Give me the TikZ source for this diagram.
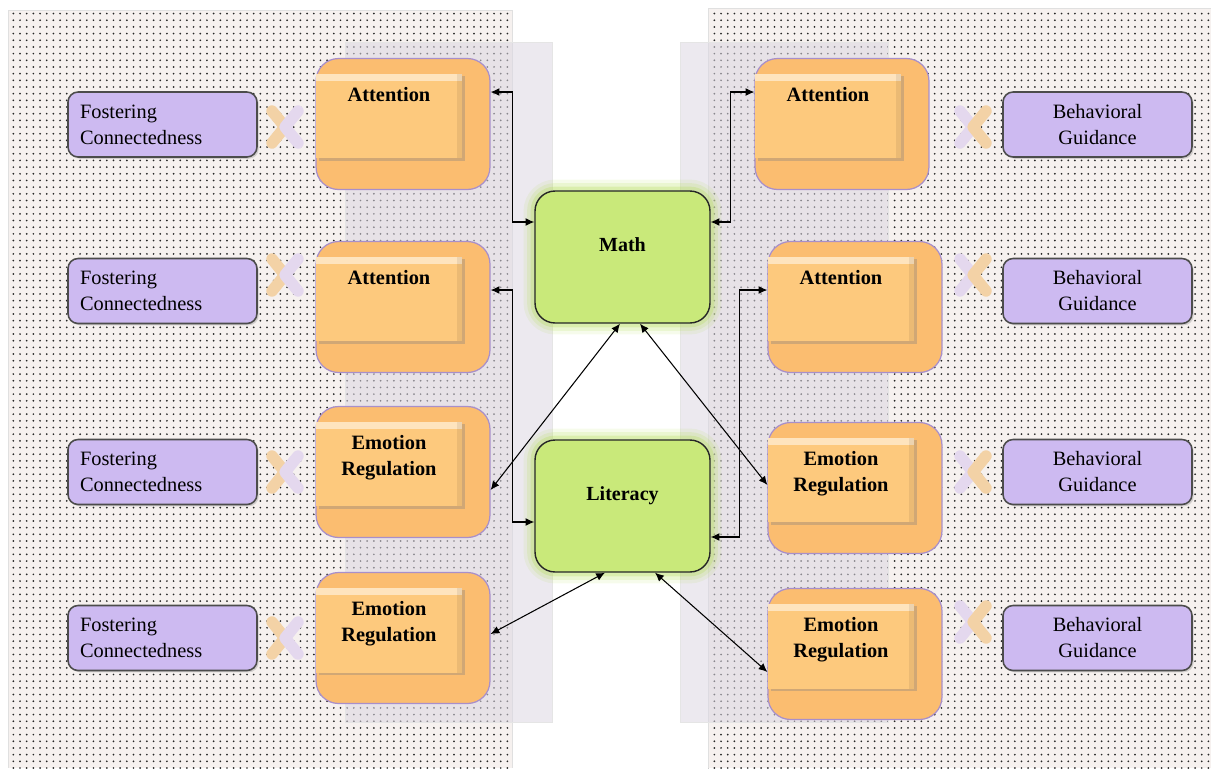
\documentclass[tikz,border=0pt]{standalone}
\usepackage{fontspec}
\setmainfont{Liberation Serif}
\usetikzlibrary{positioning,patterns.meta,shadows,arrows.meta}

\definecolor{panelbg}{HTML}{F6F1EF}
\definecolor{stripgrey}{HTML}{DCD7E2}
\definecolor{boxorange}{HTML}{FBBD70}
\definecolor{tileorange}{HTML}{FDC97D}
\definecolor{boxedge}{HTML}{A88FCB}
\definecolor{lavbox}{HTML}{CDBAF1}
\definecolor{limefill}{HTML}{C9E97A}
\definecolor{limeglow}{HTML}{B5DD5A}
\definecolor{jointorange}{HTML}{F3D2A6}
\definecolor{jointlav}{HTML}{E4D8EE}

% puzzle crosses between the purple and orange boxes
\tikzset{
  jointL/.pic={
    \draw[jointorange, line width=6.5pt, line cap=round, line join=round] (-13,-16) -- (0,0) -- (-13,16);
    \draw[jointlav, line width=6.5pt, line cap=round, line join=round] (13,-16) -- (0,0) -- (13,16);
  },
  jointR/.pic={
    \draw[jointlav, line width=6.5pt, line cap=round, line join=round] (-13,-16) -- (0,0) -- (-13,16);
    \draw[jointorange, line width=6.5pt, line cap=round, line join=round] (13,-16) -- (0,0) -- (13,16);
  },
}

\begin{document}
\begin{tikzpicture}[x=0.02cm, y=-0.02cm, >={Latex[length=5pt,width=4.5pt]},
  outer/.style={draw=boxedge, line width=0.7pt, fill=boxorange, rounded corners=0.45cm,
    minimum width=3.48cm, minimum height=2.62cm},
  tile/.style={fill=tileorange, minimum width=2.92cm, inner xsep=2pt, inner ysep=0pt,
    text height=0.56cm, text depth=1.14cm, align=center,
    font=\fontsize{11.6}{14.8}\selectfont\bfseries,
    drop shadow={shadow xshift=1.5pt, shadow yshift=-1.5pt, opacity=0.35},
    path picture={
      \fill[white, opacity=0.5] (path picture bounding box.north west) rectangle ([yshift=-4pt]path picture bounding box.north east);
      \fill[black, opacity=0.07] ([xshift=-3pt]path picture bounding box.north east) rectangle (path picture bounding box.south east);
    }},
  tile2/.style={tile, text height=1.08cm, text depth=0.62cm},
  fcbox/.style={draw=black!70, line width=0.9pt, fill=lavbox, rounded corners=0.2cm,
    minimum width=3.78cm, minimum height=1.3cm, font=\fontsize{11.6}{14.8}\selectfont,
    drop shadow={shadow xshift=1pt, shadow yshift=-1pt, opacity=0.3}},
  core/.style={draw=black!85, line width=0.8pt, fill=limefill, rounded corners=0.4cm,
    minimum width=3.5cm, inner ysep=0pt, text height=1.2cm, text depth=1.44cm,
    font=\fontsize{11.4}{14}\selectfont\bfseries,
    preaction={draw=limeglow, line width=13pt, opacity=0.12},
    preaction={draw=limeglow, line width=9pt, opacity=0.18},
    preaction={draw=limeglow, line width=5pt, opacity=0.3}},
  link/.style={<->, line width=0.6pt}]
\useasboundingbox (0,0) rectangle (1211,768);

% dotted panels
\fill[panelbg] (8,10) rectangle (512,768);
\fill[pattern={Dots[distance=3.8pt,radius=0.55pt]}, pattern color=black!85] (8,10) rectangle (512,768);
\draw[black!12] (8,768) -- (8,10) -- (512,10) -- (512,768);
\fill[panelbg] (708,8) rectangle (1211,768);
\fill[pattern={Dots[distance=3.8pt,radius=0.55pt]}, pattern color=black!85] (708,8) rectangle (1211,768);
\draw[black!12] (708,768) -- (708,8) -- (1211,8);

% grey strips
\filldraw[fill=stripgrey, fill opacity=0.55, draw=black!10] (345,42) rectangle (552,722);
\filldraw[fill=stripgrey, fill opacity=0.55, draw=black!10] (680,42) rectangle (888,722);

% left column
\node[outer] (LA1) at (403,124) {};
\node[outer] (LA2) at (403,307) {};
\node[outer] (LE3) at (403,472) {};
\node[outer] (LE4) at (403,638) {};
\node[tile] (LA1t) at ([shift={(-14,-8)}]LA1.center) {Attention};
\node[tile] (LA2t) at ([shift={(-14,-8)}]LA2.center) {Attention};
\node[tile2] (LE3t) at ([shift={(-14,-8)}]LE3.center) {Emotion\\Regulation};
\node[tile2] (LE4t) at ([shift={(-14,-8)}]LE4.center) {Emotion\\Regulation};

% right column
\node[outer] (RA1) at (842,124) {};
\node[outer] (RA2) at (855,307) {};
\node[outer] (RE3) at (855,488) {};
\node[outer] (RE4) at (855,654) {};
\node[tile] (RA1t) at ([shift={(-14,-8)}]RA1.center) {Attention};
\node[tile] (RA2t) at ([shift={(-14,-8)}]RA2.center) {Attention};
\node[tile2] (RE3t) at ([shift={(-14,-8)}]RE3.center) {Emotion\\Regulation};
\node[tile2] (RE4t) at ([shift={(-14,-8)}]RE4.center) {Emotion\\Regulation};

% purple boxes
\foreach \y [count=\i] in {124.5,291,472,638} {
  \node[fcbox, text width=3.3cm, inner xsep=0.24cm, align=left] (FC\i) at (162.5,\y) {Fostering\\Connectedness};
  \node[fcbox, align=center] (BG\i) at (1097.5,\y) {Behavioral\\Guidance};
}

% crosses
\foreach \y in {127,275,472,638} \pic at (285,\y) {jointL};
\foreach \y in {127,275,472,622} \pic at (973,\y) {jointR};

% outcomes
\node[core] (M) at (622.5,257) {Math};
\node[core] (L) at (622.5,506) {Literacy};

% connectors
\draw[link] ([yshift=0.64cm]LA1.east) -- ++(22,0) |- ([yshift=0.7cm]M.west);
\draw[link] ([yshift=0.64cm]RA1.west) -- ++(-24,0) |- ([yshift=0.7cm]M.east);
\draw[link] ([yshift=0.34cm]LA2.east) -- ++(22,0) |- ([yshift=-0.32cm]L.west);
\draw[link] ([yshift=0.34cm]RA2.west) -- ++(-28,0) |- ([yshift=-0.62cm]L.east);
\draw[link] ([yshift=-0.36cm]LE3.east) -- ([xshift=-0.05cm]M.south);
\draw[link] ([yshift=0.06cm]RE3.west) -- ([xshift=0.35cm]M.south);
\draw[link] ([yshift=0.08cm]LE4.east) -- ([xshift=-0.35cm]L.south);
\draw[link] ([yshift=-0.36cm]RE4.west) -- ([xshift=0.65cm]L.south);
\end{tikzpicture}
\end{document}
